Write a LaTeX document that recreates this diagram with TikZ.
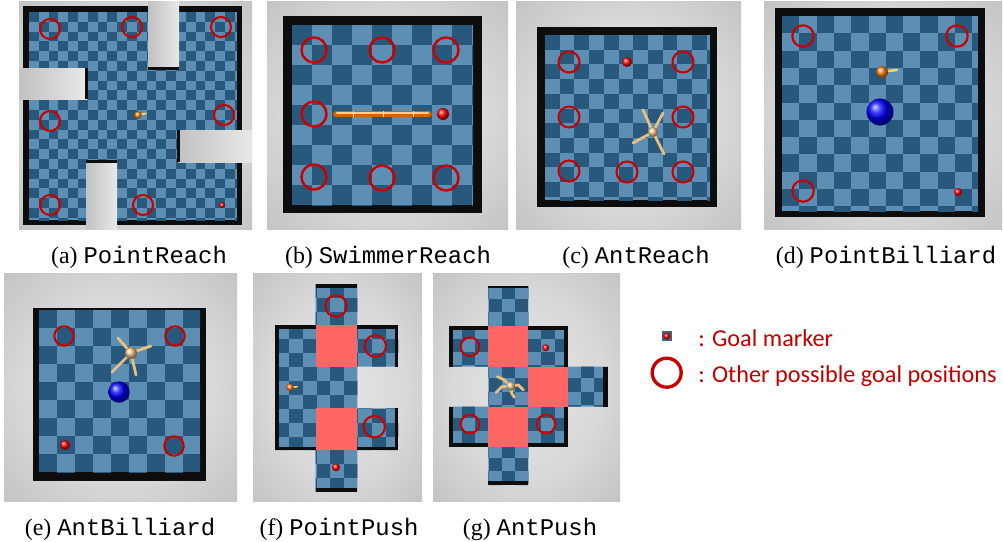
\documentclass[tikz,border=0pt]{standalone}
\usepackage{fontspec}
\setmainfont{Liberation Serif}
\setmonofont{Liberation Mono}
\newfontfamily\legendfont{Carlito}
\usetikzlibrary{positioning}
\definecolor{floorlight}{RGB}{92,143,179}
\definecolor{floordark}{RGB}{40,88,123}
\definecolor{bginner}{RGB}{230,230,230}
\definecolor{bgouter}{RGB}{176,176,176}
\definecolor{ringred}{RGB}{200,0,0}
\definecolor{pushred}{RGB}{255,102,102}
\definecolor{legendred}{RGB}{192,0,0}
\definecolor{antbody}{RGB}{245,200,140}
\definecolor{antleg}{RGB}{232,190,130}
\definecolor{agentorange}{RGB}{245,130,20}
\definecolor{stickyellow}{RGB}{250,215,90}
\pgfdeclareradialshading{arenashade}{\pgfpoint{0bp}{0bp}}{%
  color(0bp)=(bginner); color(20bp)=(bginner!75!bgouter); color(50bp)=(bgouter)}
\tikzset{
  arena/.style={shading=arenashade},
  wall/.style={fill=black!95},
  block/.style={left color=black!24, right color=black!9},
  ring/.style={draw=ringred, line width=1.2pt},
  goal/.style={ball color=red},
  agent/.style={ball color=agentorange},
  bigball/.style={ball color=blue},
  leg/.style={draw=antleg, line width=1.6pt, line cap=round, line join=round},
  stick/.style={draw=stickyellow, line width=1pt, line cap=round},
  pushblock/.style={fill=pushred},
  caption/.style={font=\fontsize{13.6}{16}\selectfont, anchor=base, inner sep=0pt},
  legendtext/.style={font=\legendfont\fontsize{13.8}{16}\selectfont, text=legendred, anchor=base west, inner sep=0pt}
}
% checker squares from (#1,#2), square size #3 (clip first)
\newcommand{\checkers}[3]{%
  \foreach \i in {0,2,...,24} \foreach \j in {0,2,...,24} {
    \fill[floordark] ({#1+\i*#3},{#2+\j*#3}) rectangle ++(#3,#3);
    \fill[floordark] ({#1+(\i+1)*#3},{#2+(\j+1)*#3}) rectangle ++(#3,#3);
  }}
\newcommand{\checkfloor}[5]{%
  \begin{scope}
    \clip (#1,#2) rectangle (#3,#4);
    \fill[floorlight] (#1,#2) rectangle (#3,#4);
    \checkers{#1}{#2}{#5}
  \end{scope}}

\begin{document}
\begin{tikzpicture}[x=0.02cm, y=-0.02cm]
  \useasboundingbox (0,0) rectangle (1003,541);
  \fill[white] (0,0) rectangle (1003,541);

  % (a) PointReach
  \shade[arena] (19,1) rectangle (252,229);
  \fill[wall] (23,6) rectangle (242,225);
  \checkfloor{29}{12}{237}{220}{9.8}
  \shade[block] (148,1) rectangle (179,69);
  \fill[wall] (148,67) rectangle (179,70);
  \shade[block] (19,68) rectangle (87,99);
  \fill[wall] (85,68) rectangle (88,99);
  \shade[block] (178,130) rectangle (252,162);
  \fill[wall] (177,130) rectangle (180,162);
  \shade[block] (86,161) rectangle (117,229);
  \fill[wall] (86,160) rectangle (117,163);
  \foreach \x/\y in {50/29,132/27,221/27,50/121,224/115,50/205,143/205}
    \draw[ring] (\x,\y) circle (10);
  \shade[goal] (222,205) circle (3);
  \draw[stick] (140,114.5) -- (146,113.5);
  \shade[agent] (138,115) circle (3.8);
  \node[caption] (capa) at (139,263) {(a) \texttt{PointReach}};

  % (b) SwimmerReach
  \shade[arena] (267,1) rectangle (508,229);
  \fill[wall] (283,16) rectangle (482,213);
  \checkfloor{292}{25}{473}{205}{20}
  \foreach \x/\y in {314/50,382/50,446/50,314/114,314/177,382/178,446/178}
    \draw[ring, line width=1.4pt] (\x,\y) circle (12.5);
  \draw[line width=3.2pt, line cap=round, draw=orange!80!black] (336,114) -- (429,114);
  \draw[line width=1.2pt, line cap=round, draw=orange!40!white] (337,113) -- (428,113);
  \foreach \x in {353,383,413}
    \draw[white!80!orange, line width=0.5pt] (\x,111) -- (\x,117);
  \shade[goal] (443,114) circle (6);
  \node[caption] (capb) at (388,263) {(b) \texttt{SwimmerReach}};

  % (c) AntReach
  \shade[arena] (516,1) rectangle (741,229);
  \fill[wall] (537,27) rectangle (717,207);
  \checkfloor{545}{35}{710}{200}{14.7}
  \foreach \x/\y in {569/62,683/62,569/117,683/117,569/171,627/172,683/172}
    \draw[ring] (\x,\y) circle (10.5);
  \shade[goal] (627,62) circle (5);
  \foreach \x/\y in {643/110,663/113,633/143,664/154}
    \draw[leg] (653,132) -- (\x,\y);
  \shade[ball color=antbody] (653,132) circle (5);
  \node[caption] (capc) at (636,263) {(c) \texttt{AntReach}};

  % (d) PointBilliard
  \shade[arena] (764,1) rectangle (1002,229);
  \fill[wall] (775,8) rectangle (985,217);
  \checkfloor{782}{16}{978}{211}{17.3}
  \foreach \x/\y in {803/36,957/36,803/191}
    \draw[ring] (\x,\y) circle (10.7);
  \shade[goal] (958,192) circle (4);
  \draw[stick, line width=1.4pt] (884,71.5) -- (897,70);
  \shade[agent] (882,72) circle (6);
  \shade[bigball] (880,112) circle (13.5);
  \node[caption] (capd) at (886,263) {(d) \texttt{PointBilliard}};

  % (e) AntBilliard
  \shade[arena] (4,273) rectangle (237,501);
  \fill[wall] (33,308) rectangle (206,481);
  \checkfloor{39}{310}{200}{472}{18}
  \foreach \x/\y in {64/336,175/336,174/446}
    \draw[ring] (\x,\y) circle (9.7);
  \shade[goal] (65,445) circle (5);
  \shade[bigball] (119,392) circle (10.7);
  \foreach \x/\y in {118/338,151/346,112/372,136/375}
    \draw[leg] (131,353) -- (\x,\y);
  \shade[ball color=antbody] (131,353) circle (6);
  \node[caption] (cape) at (120,535) {(e) \texttt{AntBilliard}};

  % (f) PointPush
  \shade[arena] (253,273) rectangle (422,501);
  \begin{scope}
    \clip (315.7,284) rectangle (357.3,491.7) (275,325) rectangle (315.7,450)
          (357.3,325) rectangle (398.3,366.7) (357.3,408.3) rectangle (398.3,450);
    \fill[floorlight] (275,284) rectangle (398.3,491.7);
    \checkers{275}{284}{13.87}
  \end{scope}
  \fill[wall] (315.7,284) rectangle (357.3,288);
  \fill[wall] (315.7,487.7) rectangle (357.3,491.7);
  \fill[wall] (275,325) rectangle (278.5,450);
  \fill[wall] (275,325) rectangle (315.7,328.5);
  \fill[wall] (275,446.5) rectangle (315.7,450);
  \fill[wall] (357.3,325) rectangle (398.3,328.5);
  \fill[wall] (394.8,325) rectangle (398.3,366.7);
  \fill[wall] (394.8,408.3) rectangle (398.3,450);
  \fill[wall] (357.3,446.5) rectangle (398.3,450);
  \fill[pushblock] (315.7,325) rectangle (357.3,366.7);
  \fill[pushblock] (315.7,408.3) rectangle (357.3,450);
  \foreach \x/\y in {336/306,375.3/346,374.3/426.7}
    \draw[ring] (\x,\y) circle (10.7);
  \shade[goal] (336,467.3) circle (4);
  \draw[stick] (292,387.3) -- (297,386.7);
  \shade[agent] (290,387.3) circle (3.8);
  \node[caption] (capf) at (339,535) {(f) \texttt{PointPush}};

  % (g) AntPush
  \shade[arena] (433,273) rectangle (620,501);
  \begin{scope}
    \clip (488.3,286) rectangle (528.3,485) (449,326) rectangle (488.3,366.7)
          (449,406.7) rectangle (488.3,446.7) (528.3,326) rectangle (567.7,446.7)
          (567.7,366.7) rectangle (607.7,406.7);
    \fill[floorlight] (449,286) rectangle (607.7,485);
    \checkers{449}{286}{13.2}
  \end{scope}
  \fill[wall] (488.3,286) rectangle (528.3,288);
  \fill[wall] (488.3,481) rectangle (528.3,485);
  \fill[wall] (449,326) rectangle (488.3,329.5);
  \fill[wall] (449,326) rectangle (452.5,366.7);
  \fill[wall] (449,406.7) rectangle (452.5,446.7);
  \fill[wall] (449,443.2) rectangle (488.3,446.7);
  \fill[wall] (528.3,326) rectangle (567.7,329.5);
  \fill[wall] (564.2,326) rectangle (567.7,366.7);
  \fill[wall] (564.2,406.7) rectangle (567.7,446.7);
  \fill[wall] (528.3,443.2) rectangle (567.7,446.7);
  \fill[wall] (603,366.7) rectangle (607.7,406.7);
  \fill[pushblock] (488.3,326) rectangle (528.3,366.7);
  \fill[pushblock] (528.3,366.7) rectangle (567.7,406.7);
  \fill[pushblock] (488.3,406.7) rectangle (528.3,446.7);
  \foreach \x/\y in {470/346.7,470/424,546/424}
    \draw[ring] (\x,\y) circle (9.3);
  \shade[goal] (545.7,347.7) circle (3.5);
  \draw[leg] (510.7,386) -- (503.3,379.3) -- (497.3,376.7);
  \draw[leg] (510.7,386) -- (501.7,386.7) -- (496,392.7);
  \draw[leg] (510.7,386) -- (511.7,393.3) -- (514.3,397.3);
  \draw[leg] (510.7,386) -- (518.3,385) -- (523.3,390);
  \shade[ball color=antbody] (510.7,386) circle (4.5);
  \node[caption] (capg) at (530,535) {(g) \texttt{AntPush}};

  % legend
  \fill[floordark!70!gray] (661.7,331) rectangle (671.7,341);
  \shade[goal] (666.7,336) circle (3.5);
  \draw[ringred, line width=1.9pt] (666.7,372.7) circle (14.5);
  \node[legendtext] (goalmark) at (698,346.7) {: Goal marker};
  \node[legendtext] (otherpos) at (698,382.7) {: Other possible goal positions};
\end{tikzpicture}
\end{document}
